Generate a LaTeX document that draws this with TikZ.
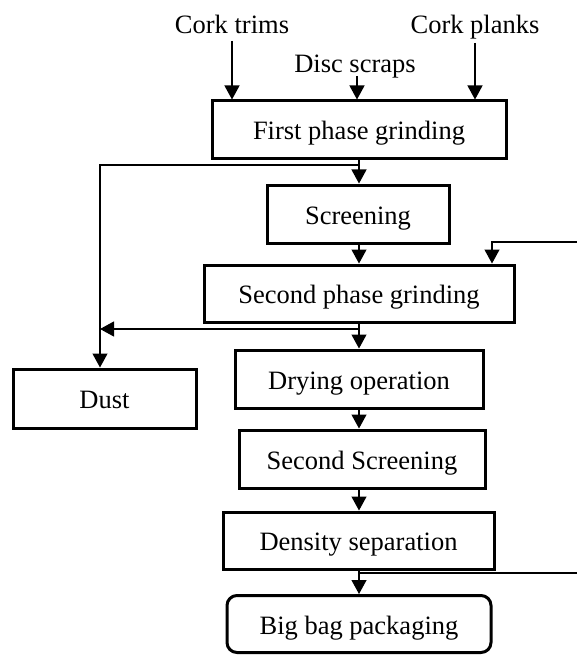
\documentclass[tikz,border=0pt]{standalone}
\usepackage{fontspec}
\setmainfont{Liberation Serif}
\usetikzlibrary{arrows.meta}
\begin{document}
\begin{tikzpicture}[x=1pt,y=-1pt,
  box/.style={draw, line width=3pt, inner sep=0pt, text height=20pt, text depth=0pt, font=\fontsize{26.5}{30}\selectfont},
  lbl/.style={inner sep=0pt, font=\fontsize{26.5}{30}\selectfont},
  conn/.style={line width=1.2pt},
  arr/.style={conn, -{Triangle[length=14pt,width=15pt]}}]
\useasboundingbox (0,0) rectangle (577,655);
% labels
\node[lbl, anchor=base] (trims) at (232,34) {Cork trims};
\node[lbl, anchor=base] (planks) at (475,34) {Cork planks};
\node[lbl, anchor=base] (disc) at (355,73) {Disc scraps};
% boxes
\node[box, minimum width=294pt, minimum height=58pt] (first) at (359,130) {First phase grinding};
\node[box, minimum width=182pt, minimum height=58pt] (screen) at (358,214) {Screening};
\node[box, minimum width=310pt, minimum height=57pt] (second) at (359,293.5) {Second phase grinding};
\node[box, minimum width=248pt, minimum height=58pt] (dry) at (359,379) {Drying operation};
\node[box, minimum width=246pt, minimum height=58pt] (sscreen) at (362,459) {Second Screening};
\node[box, minimum width=271pt, minimum height=57pt] (dens) at (358.5,540.5) {Density separation};
\node[box, rounded corners=10pt, minimum width=264pt, minimum height=57pt] (bag) at (359,624) {Big bag packaging};
\node[box, minimum width=183pt, minimum height=59pt] (dust) at (104.5,398.5) {Dust};
% coordinates
\coordinate (j1) at (359,165);
\coordinate (j2) at (359,329);
\coordinate (j3) at (359,573);
\coordinate (in1) at (577,242);
\coordinate (in1b) at (492,242);
\coordinate (d1) at (100,165);
\coordinate (d2) at (100,329);
\coordinate (out1) at (577,573);
% input arrows
\draw[arr] ([yshift=-7pt]trims.base) -- (trims.base |- first.north);
\draw[arr] ([xshift=2pt,yshift=-3pt]disc.base) -- ([xshift=2pt]disc.base |- first.north);
\draw[arr] ([yshift=-9pt]planks.base) -- (planks.base |- first.north);
% main flow
\draw[arr] (first.south -| j1) -- (screen.north -| j1);
\draw[arr] (screen.south -| j1) -- (second.north -| j1);
\draw[arr] (second.south -| j2) -- (dry.north -| j2);
\draw[arr] (dry.south -| j2) -- (sscreen.north -| j2);
\draw[arr] (sscreen.south -| j2) -- (dens.north -| j2);
\draw[arr] (dens.south -| j3) -- (bag.north -| j3);
% side lines
\draw[arr] (j1) -- (d1) -- (dust.north -| d1);
\draw[arr] (j2) -- (d2);
\draw[arr] (in1) -- (in1b) -- (second.north -| in1b);
\draw[conn] (j3) -- (out1);
\end{tikzpicture}
\end{document}
